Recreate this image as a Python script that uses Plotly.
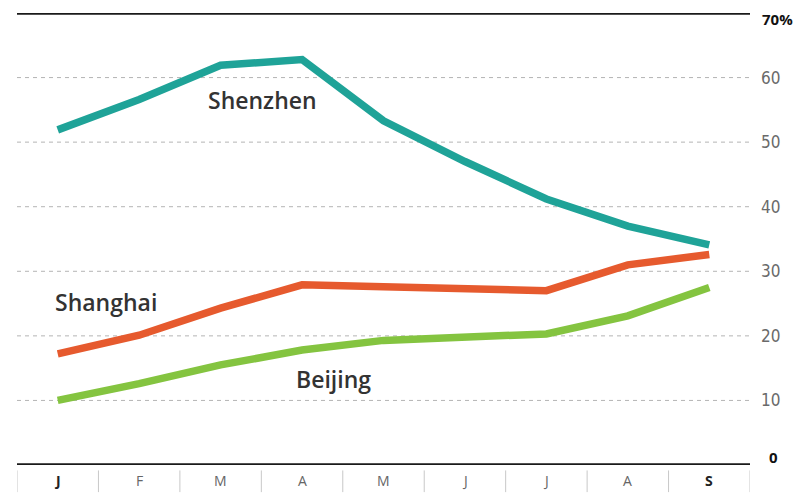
import plotly.graph_objects as go

months = ["J", "F", "M", "A", "M", "J", "J", "A", "S"]
shenzhen = [51.9, 56.6, 61.9, 62.8, 53.3, 47.0, 41.2, 37.0, 34.1]
shanghai = [17.2, 20.1, 24.3, 27.9, 27.6, 27.4, 27.0, 31.0, 32.6]
beijing = [10.0, 12.6, 15.5, 17.8, 19.3, 19.9, 20.3, 23.1, 27.5]
y_ticks = [10, 20, 30, 40, 50, 60]

series = [
    ("Shenzhen", shenzhen, "#1fa398"),
    ("Shanghai", shanghai, "#e65a2e"),
    ("Beijing", beijing, "#84c440"),
]

x = list(range(len(months)))
fig = go.Figure()
for name, vals, color in series:
    fig.add_trace(go.Scatter(x=x, y=vals, mode="lines", name=name,
                             line=dict(color=color, width=7.5),
                             hoverinfo="skip"))

label_font = dict(family="Open Sans", size=23, color="#333333", weight=600)
fig.add_annotation(x=2.51, y=56.5, text="Shenzhen", showarrow=False, font=label_font)
fig.add_annotation(x=0.59, y=25.3, text="Shanghai", showarrow=False, font=label_font)
fig.add_annotation(x=3.38, y=13.3, text="Beijing", showarrow=False, font=label_font)

# dashed gridlines
for v in y_ticks:
    fig.add_shape(type="line", xref="paper", yref="y", x0=0, x1=1, y0=v, y1=v,
                  line=dict(color="#b4b4b4", width=1, dash="4px,4px"), layer="below")

# heavy rules at the top (70%) and baseline (0)
for v in (0, 70):
    fig.add_shape(type="line", xref="paper", yref="y", x0=0, x1=1, y0=v, y1=v,
                  line=dict(color="#1a1a1a", width=3.5))

# month separators
for i in range(len(months) + 1):
    fig.add_shape(type="line", xref="x", yref="paper", x0=i - 0.5, x1=i - 0.5,
                  y0=-0.012, y1=-0.06, line=dict(color="#c8c8c8", width=1))

# month labels
for i, m in enumerate(months):
    bold = i in (0, len(months) - 1)
    fig.add_annotation(x=i, y=-0.034, yref="paper", yanchor="middle", text=m,
                       showarrow=False,
                       font=dict(family="Open Sans", size=14,
                                 color="#222222" if bold else "#666666",
                                 weight=700 if bold else 400))

right_font = dict(family="Open Sans", size=15, color="#111111", weight=700)
fig.add_annotation(x=1, xref="paper", xanchor="left", xshift=10, y=70, yshift=-6,
                   text="70%", showarrow=False, font=right_font)
fig.add_annotation(x=1, xref="paper", xanchor="left", xshift=17, y=0, yshift=8,
                   text="0", showarrow=False, font=right_font)

fig.update_layout(
    width=811, height=498,
    margin=dict(l=17, r=61, t=13, b=33),
    paper_bgcolor="white", plot_bgcolor="white",
    showlegend=False,
    xaxis=dict(range=[-0.5, 8.5], showgrid=False, zeroline=False,
               showticklabels=False, showline=False, fixedrange=True),
    yaxis=dict(range=[0, 70], side="right", showgrid=False, zeroline=False,
               tickvals=y_ticks, ticktext=[str(v) for v in y_ticks],
               ticks="", ticklabelstandoff=10,
               tickfont=dict(family="DejaVu Sans Condensed", size=17, color="#6a6a6a"),
               showline=False, fixedrange=True),
)

fig.write_html("out.html")
